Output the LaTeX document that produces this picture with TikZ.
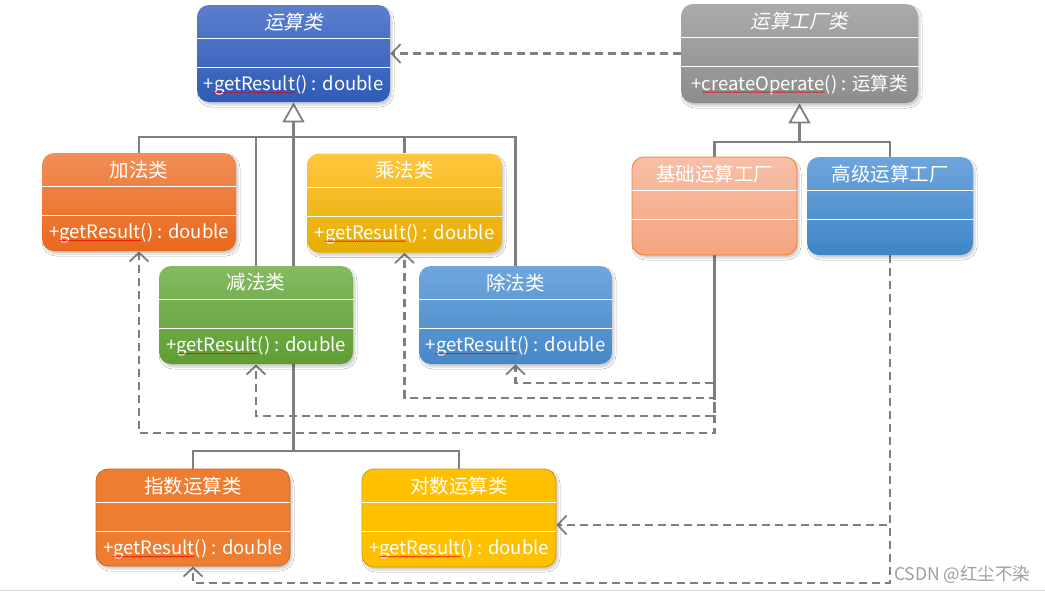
\documentclass[tikz,border=0pt]{standalone}
\usepackage{fontspec}
\setmainfont{Noto Sans CJK SC}
\newfontfamily\slantcjk[FakeSlant=0.2]{Noto Sans CJK SC}
\usetikzlibrary{arrows.meta,calc,shadows.blur,decorations.pathmorphing}
\pgfdeclarelayer{bg}
\pgfsetlayers{bg,main}
\newcommand\spellwave[1]{\tikz[baseline=(sw.base),x=1cm,y=1cm]{\node[inner sep=0pt,outer sep=0pt,anchor=base west,text=white] (sw) {#1};\draw[red!90!black, line width=0.4pt, decorate, decoration={snake, amplitude=0.5pt, segment length=2.2pt}] ([yshift=-1.8pt]sw.base west) -- ([yshift=-1.8pt]sw.base east);}}
\definecolor{lineGray}{HTML}{7F7F7F}
\definecolor{yunT}{HTML}{5B7ECC}
\definecolor{yunB}{HTML}{2F5BB7}
\definecolor{facT}{HTML}{AAAAAA}
\definecolor{facB}{HTML}{8D8D8D}
\definecolor{addT}{HTML}{F28E57}
\definecolor{addB}{HTML}{E8691D}
\definecolor{mulT}{HTML}{FFC63F}
\definecolor{mulB}{HTML}{E6AE00}
\definecolor{subT}{HTML}{84BB62}
\definecolor{subB}{HTML}{5E9D33}
\definecolor{divT}{HTML}{70A6DC}
\definecolor{divB}{HTML}{4688C8}
\definecolor{basT}{HTML}{F6C0A7}
\definecolor{basB}{HTML}{F5A47F}
\definecolor{basD}{HTML}{ED7D31}
\definecolor{advT}{HTML}{6FA5DD}
\definecolor{advB}{HTML}{3E86C6}
\definecolor{expF}{HTML}{ED7D31}
\definecolor{expD}{HTML}{C8671F}
\definecolor{logF}{HTML}{FFC000}
\definecolor{logD}{HTML}{C99A00}
\tikzset{
  clsbox/.style={rounded corners=12pt, inner sep=0pt, line width=0.8pt,
    blur shadow={shadow xshift=2pt, shadow yshift=-3pt, shadow blur radius=2pt, shadow blur steps=4, shadow opacity=20}},
  cmp/.style={draw=white, line width=1.1pt},
  ttl/.style={text=white, font=\fontsize{19.5}{22}\selectfont, inner sep=0pt},
  mth/.style={text=white, font=\fontsize{18.5}{22}\selectfont, inner sep=0pt},
  conn/.style={draw=lineGray, line width=2.1pt},
  inh/.style={conn, -{Triangle[open, length=20pt, width=22pt, fill=white, line width=1.8pt]}},
  dep/.style={conn, dash pattern=on 8pt off 5pt, -{Straight Barb[length=9pt, width=19pt, line width=1.8pt]}},
}
\newcommand\umlclass[8]{%
  \node[clsbox,#6,minimum width=#4pt,minimum height=#5pt] (#1) at (#2,#3) {};
  \draw[cmp] ($(#1.north west)+(0,34)$) -- ($(#1.north east)+(0,34)$);
  \draw[cmp] ($(#1.north west)+(0,63)$) -- ($(#1.north east)+(0,63)$);
  \node[ttl] (#1-t) at ($(#1.north)+(0,17)$) {#7};
  \node[mth] (#1-m) at ($(#1.north)+(0,81)$) {#8};
}
\begin{document}
\begin{tikzpicture}[x=1pt,y=-1pt]
\useasboundingbox (0,0) rectangle (1045,592);

\umlclass{yun}{293.5}{53.5}{193}{97}{top color=yunT,bottom color=yunB}{\slantcjk 运算类}{+\spellwave{getResult}() : double}
\umlclass{fac}{799.5}{53.5}{237}{99}{top color=facT,bottom color=facB}{\slantcjk 运算工厂类}{+\spellwave{createOperate}() : 运算类}
\umlclass{add}{139}{202}{194}{98}{top color=addT,bottom color=addB}{加法类}{+\spellwave{getResult}() : double}
\umlclass{mul}{404.5}{203}{195}{99}{top color=mulT,bottom color=mulB}{乘法类}{+\spellwave{getResult}() : double}
\umlclass{sub}{256}{315}{194}{98}{top color=subT,bottom color=subB}{减法类}{+\spellwave{getResult}() : double}
\umlclass{div}{515.5}{315}{193}{98}{top color=divT,bottom color=divB}{除法类}{+\spellwave{getResult}() : double}
\umlclass{bas}{714.5}{206}{165}{98}{top color=basT,bottom color=basB,draw=basD}{基础运算工厂}{}
\umlclass{adv}{890}{206}{166}{98}{top color=advT,bottom color=advB}{高级运算工厂}{}
\umlclass{exp}{193}{517.5}{194}{97}{fill=expF,draw=expD}{指数运算类}{+\spellwave{getResult}() : double}
\umlclass{log}{459}{518}{194}{98}{fill=logF,draw=logD}{对数运算类}{+\spellwave{getResult}() : double}

\node[text=gray!75, font=\fontsize{17.5}{18}\selectfont, anchor=west, inner sep=0pt] (wm) at (894,575) {CSDN @红尘不染};

\begin{pgfonlayer}{bg}
\fill[white] (0,0) rectangle (1045,592);
\draw[gray!30, line width=1.2pt] (0,590.5) -- (1045,590.5);
\coordinate (j1) at (293.5,137);
\coordinate (j2) at (293.5,451);
\coordinate (j3) at (799.5,142);
% inheritance
\draw[conn] (add.north) |- (j1);
\draw[conn] (sub.north) |- (j1);
\draw[conn] (mul.north) |- (j1);
\draw[conn] (div.north) |- (j1);
\draw[inh] (j1) -- (yun.south);
\draw[conn] (j1) -- (j2);
\draw[conn] (exp.north) |- (j2);
\draw[conn] (log.north) |- (j2);
\draw[conn] (bas.north) |- (j3);
\draw[conn] (adv.north) |- (j3);
\draw[inh] (j3) -- (fac.south);
% dependencies
\draw[dep] (fac.west) -- (yun.east);
\draw[dep, dash phase=0pt] (bas.south) |- ($(div.south)+(0,19)$) -- (div.south);
\draw[dep, dash phase=3pt] (bas.south) |- ($(mul.south)+(0,145)$) -- (mul.south);
\draw[dep, dash phase=6pt] (bas.south) |- ($(sub.south)+(0,52)$) -- (sub.south);
\draw[dep, dash phase=9pt] (bas.south) |- ($(add.south)+(0,182)$) -- (add.south);
\draw[dep] (adv.south) |- ($(log.east)+(0,7)$);
\draw[dep] (adv.south) |- ($(exp.south)+(0,17)$) -- (exp.south);
\end{pgfonlayer}
\end{tikzpicture}
\end{document}
